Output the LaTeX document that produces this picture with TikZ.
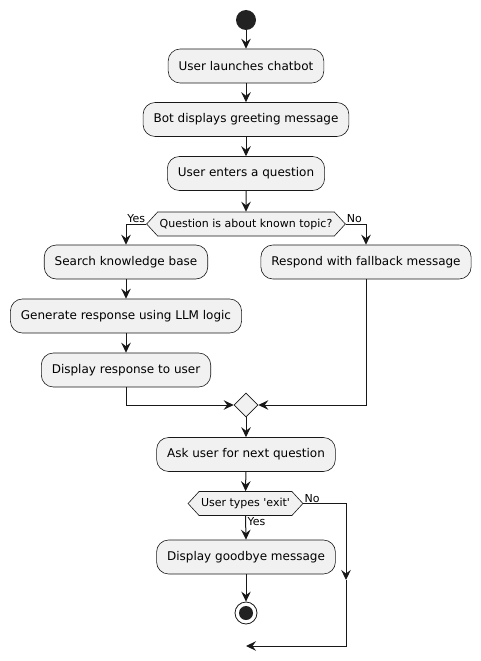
\documentclass[tikz,border=0pt]{standalone}
\usepackage{fontspec}
\setmainfont{DejaVu Sans}
\usetikzlibrary{arrows.meta,shapes.symbols,shapes.geometric}
\definecolor{boxfill}{HTML}{F1F1F1}
\definecolor{ink}{HTML}{181818}
\definecolor{dotc}{HTML}{222222}
\begin{document}
\begin{tikzpicture}[x=1pt,y=-1pt,
 act/.style={draw=ink, line width=0.6pt, fill=boxfill, rounded corners=12pt, minimum height=34pt, inner xsep=10.5pt, font=\fontsize{12}{14}\selectfont},
 dec/.style={draw=ink, line width=0.6pt, fill=boxfill, signal, signal to=west and east, signal pointer angle=95, minimum height=24pt, inner xsep=2pt, inner ysep=1pt, font=\fontsize{11}{13}\selectfont},
 merge/.style={draw=ink, line width=0.6pt, fill=boxfill, diamond, minimum width=24pt, minimum height=24pt, inner sep=0pt},
 flow/.style={draw=ink, line width=1pt, -{Stealth[length=10pt,width=9.5pt,inset=3.5pt]}},
 lab/.style={font=\fontsize{11}{13}\selectfont, inner sep=1pt, text=black}]
\useasboundingbox (0,0) rectangle (481,661);
\node[circle, fill=dotc, minimum size=20pt, inner sep=0pt] (start) at (246,20) {};
\node[act] (a1) at (246,66) {User launches chatbot};
\node[act] (a2) at (246,119.5) {Bot displays greeting message};
\node[act] (a3) at (246,173.5) {User enters a question};
\node[dec, minimum width=197pt] (d1) at (246,224) {Question is about known topic?};
\node[act] (s1) at (126,262) {Search knowledge base};
\node[act] (f1) at (366,262) {Respond with fallback message};
\node[act] (g1) at (126,316) {Generate response using LLM logic};
\node[act] (r1) at (126,370) {Display response to user};
\node[merge] (m1) at (246,405) {};
\node[act] (a4) at (246,454.5) {Ask user for next question};
\node[dec, minimum width=113pt] (d2) at (245.5,503.5) {User types \textquotesingle exit\textquotesingle};
\node[act] (bye) at (246,557) {Display goodbye message};
\node[circle, draw=ink, line width=0.8pt, fill=white, minimum size=22pt, inner sep=0pt] (stop) at (246,613) {};
\node[circle, fill=dotc, minimum size=14pt, inner sep=0pt] (stopdot) at (stop.center) {};
\coordinate (nm) at (346,580);
\coordinate (endpt) at (246,646);

\draw[flow] (start) -- (a1);
\draw[flow] (a1) -- (a2);
\draw[flow] (a2) -- (a3);
\draw[flow] (a3) -- (d1);
\draw[flow] (d1.west) -| (s1.north);
\node[lab, anchor=south east] (y1) at (d1.west) {Yes};
\draw[flow] (d1.east) -| (f1.north);
\node[lab, anchor=south west] (n1) at (d1.east) {No};
\draw[flow] (s1) -- (g1);
\draw[flow] (g1) -- (r1);
\draw[flow] (r1.south) |- (m1.west);
\draw[flow] (f1.south) |- (m1.east);
\draw[flow] (m1) -- (a4);
\draw[flow] (a4) -- (d2);
\draw[flow] (d2.south) -- (bye.north);
\node[lab, anchor=north west] (y2) at ([xshift=1pt]d2.south) {Yes};
\draw[flow] (bye) -- (stop);
\draw[flow] (d2.east) -| (nm);
\node[lab, anchor=south west] (n2) at (d2.east) {No};
\draw[flow] (nm) |- (endpt);
\end{tikzpicture}
\end{document}
